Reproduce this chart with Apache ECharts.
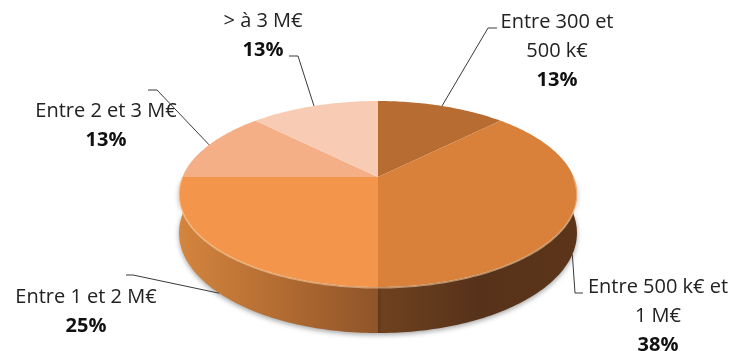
<!DOCTYPE html>
<html>
<head>
<meta charset="utf-8">
<script src="https://cdn.jsdelivr.net/npm/echarts@6/dist/echarts.min.js"></script>
<style>
  html, body { margin: 0; padding: 0; background: #ffffff; }
  #chart { width: 732px; height: 351px; }
</style>
</head>
<body>
<div id="chart"></div>
<script>
// Categories (clockwise from 12 o'clock) and their shares in percent
const categories = ['Entre 300 et\n500 k€', 'Entre 500 k€ et\n1 M€', 'Entre 1 et 2 M€', 'Entre 2 et 3 M€', '> à 3 M€'];
const shares = [12.5, 37.5, 25, 12.5, 12.5];

// Slice styling
const topColors = ['#b76d31', '#d9813b', '#f3954a', '#f5af86', '#f7cbb4'];
const sideColors = [
  ['#8a4f22', '#6e3f1b'],
  ['#6f421f', '#57321a', '#5c3519'],
  ['#d4853e', '#b36c32', '#8f5429'],
  ['#c98a63', '#b07650'],
  ['#d3a58c', '#c0927a']
];
const FONT = 'Open Sans';
const FONT_SIZE = 20;

// Tilted disc geometry (perspective projection of a flat cylinder)
const PIE = { cx: 378, cy: 177, rx: 195.6, ry: 89.9, k: 0.183, depth: 37.6 };

// Label layout: text block centre and the two-point elbow of each leader line
const labelLayout = [
  { at: [557, 51], elbow: [[497, 28], [488, 28]] },
  { at: [658, 316], elbow: [[583, 293], [575, 293]] },
  { at: [86, 312], elbow: [[126, 275], [133, 275]] },
  { at: [106, 126], elbow: [[148, 90], [157, 90]] },
  { at: [263, 36], elbow: [[289, 56], [298, 56]] }
];

const TAU = Math.PI * 2;
const START = -Math.PI / 2;
const total = shares.reduce((a, b) => a + b, 0);
const cumStart = shares.map((_, i) => shares.slice(0, i).reduce((a, b) => a + b, 0));
const seriesData = shares.map((v, i) => ({ name: categories[i], value: [v, cumStart[i]] }));

function project(theta, drop) {
  const X = Math.cos(theta), Z = Math.sin(theta);
  const w = 1 - PIE.k * Z;
  return [PIE.cx + PIE.rx * X / w, PIE.cy + (PIE.ry * Z + drop) / w];
}

function arc(a0, a1, drop) {
  const n = Math.max(2, Math.ceil((a1 - a0) / (Math.PI / 180)));
  const pts = [];
  for (let j = 0; j <= n; j++) pts.push(project(a0 + (a1 - a0) * j / n, drop));
  return pts;
}

function sliceAngles(api) {
  const v = api.value(0), s = api.value(1);
  const a0 = START + TAU * s / total;
  return [a0, a0 + TAU * v / total];
}

// front part of a slice's rim, or null when the slice lies entirely at the back
function frontRange(a0, a1) {
  const b0 = Math.max(a0, 0), b1 = Math.min(a1, Math.PI);
  return b1 > b0 ? [b0, b1] : null;
}

function renderSide(params, api) {
  const [a0, a1] = sliceAngles(api);
  const fr = frontRange(a0, a1);
  if (!fr) return null;
  const topEdge = arc(fr[0], fr[1], 0);
  const bottomEdge = arc(fr[0], fr[1], PIE.depth).reverse();
  const pts = topEdge.concat(bottomEdge);
  const xs = pts.map(p => p[0]);
  const x0 = Math.min(...xs), x1 = Math.max(...xs);
  const cols = sideColors[params.dataIndex];
  return {
    type: 'polygon',
    shape: { points: pts },
    style: {
      fill: {
        type: 'linear', x: x0, y: 0, x2: x1, y2: 0, global: true,
        colorStops: cols.map((c, j) => ({ offset: j / (cols.length - 1), color: c }))
      },
      shadowBlur: 5,
      shadowOffsetY: 2,
      shadowColor: 'rgba(0,0,0,0.35)'
    }
  };
}

function renderTop(params, api) {
  const [a0, a1] = sliceAngles(api);
  const pts = [[PIE.cx, PIE.cy]].concat(arc(a0, a1, 0));
  const children = [{
    type: 'polygon',
    shape: { points: pts },
    style: { fill: topColors[params.dataIndex] }
  }];
  const fr = frontRange(a0, a1);
  if (fr) {
    // soft highlight along the front rim
    children.push({
      type: 'polyline',
      shape: { points: arc(fr[0], fr[1], 0.6) },
      style: { stroke: 'rgba(255,214,170,0.55)', lineWidth: 1.6, fill: null }
    });
  }
  return { type: 'group', children: children };
}

function renderLabel(params, api) {
  const [a0, a1] = sliceAngles(api);
  const mid = (a0 + a1) / 2;
  const anchor = project(mid, Math.sin(mid) > 0 ? PIE.depth : 0);
  const lay = labelLayout[params.dataIndex];
  const pct = Math.round(api.value(0) / total * 100) + '%';
  const lines = categories[params.dataIndex].split('\n');
  const text = lines.map(l => '{n|' + l + '}').join('\n') + '\n{p|' + pct + '}';
  return {
    type: 'group',
    children: [
      {
        type: 'polyline',
        shape: { points: [lay.elbow[0], lay.elbow[1], anchor] },
        style: { stroke: '#3a3a3a', lineWidth: 1, fill: null }
      },
      {
        type: 'text',
        x: lay.at[0],
        y: lay.at[1],
        style: {
          text: text,
          align: 'center',
          verticalAlign: 'middle',
          fill: '#222222',
          fontFamily: FONT,
          fontSize: FONT_SIZE,
          lineHeight: 29,
          rich: {
            n: { fontFamily: FONT, fontSize: FONT_SIZE, lineHeight: 29, fill: '#222222' },
            p: { fontFamily: FONT, fontSize: FONT_SIZE, lineHeight: 29, fontWeight: 'bold', fill: '#111111' }
          }
        }
      }
    ]
  };
}

const chart = echarts.init(document.getElementById('chart'), null, { renderer: 'canvas' });
chart.setOption({
  animation: false,
  backgroundColor: '#ffffff',
  series: [
    { type: 'custom', name: 'side', coordinateSystem: 'none', z: 1, silent: true, data: seriesData, renderItem: renderSide },
    { type: 'custom', name: 'top', coordinateSystem: 'none', z: 2, silent: true, data: seriesData, renderItem: renderTop },
    { type: 'custom', name: 'labels', coordinateSystem: 'none', z: 3, silent: true, data: seriesData, renderItem: renderLabel }
  ]
});
</script>
</body>
</html>
